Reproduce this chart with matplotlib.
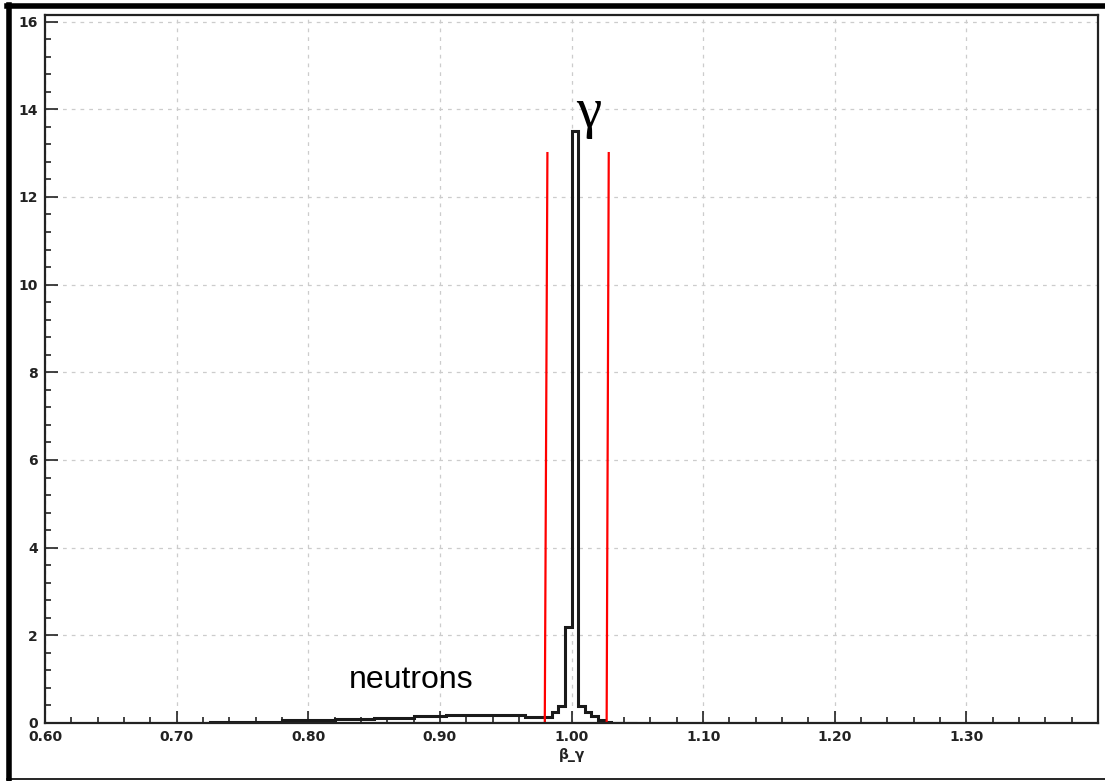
import numpy as np
import matplotlib
matplotlib.use("Agg")
import matplotlib.pyplot as plt
from matplotlib.lines import Line2D
from matplotlib.ticker import MultipleLocator, FixedLocator

# ---------------------------------------------------------------------------
# Data (beta_gamma histogram, bin width 0.005)
# ---------------------------------------------------------------------------
bin_start = 0.725
bin_width = 0.005
counts = [
    # 0.725 - 0.780
    0.03, 0.03, 0.03, 0.03, 0.03, 0.03, 0.03, 0.03, 0.03, 0.03, 0.03,
    # 0.780 - 0.820
    0.06, 0.06, 0.06, 0.06, 0.06, 0.06, 0.06, 0.06,
    # 0.820 - 0.850
    0.09, 0.09, 0.09, 0.09, 0.09, 0.09,
    # 0.850 - 0.880
    0.12, 0.12, 0.12, 0.12, 0.12, 0.12,
    # 0.880 - 0.905
    0.15, 0.15, 0.15, 0.15, 0.15,
    # 0.905 - 0.965
    0.18, 0.18, 0.18, 0.18, 0.18, 0.18, 0.18, 0.18, 0.18, 0.18, 0.18, 0.18,
    # 0.965 - 0.985
    0.14, 0.14, 0.14, 0.14,
    # 0.985 - 1.030 (gamma peak)
    0.24, 0.38, 2.2, 13.5, 0.38, 0.26, 0.15, 0.07, 0.03,
    # 1.030 - 1.050 tail
    0.01, 0.01, 0.01, 0.01,
]

# selection cut lines (x at bottom, x at top), height
cut_low_x = [0.9797, 0.9817]
cut_high_x = [1.0267, 1.0283]
cut_y = [0.0, 13.0]

x_ticks = [0.60, 0.70, 0.80, 0.90, 1.00, 1.10, 1.20, 1.30]
x_ticklabels = ["0.60", "0.70", "0.80", "0.90", "1.00", "1.10", "1.20", "1.30"]
y_ticks = [0, 2, 4, 6, 8, 10, 12, 14, 16]

# ---------------------------------------------------------------------------
fig = plt.figure(figsize=(11.05, 7.81), dpi=100)
ax = fig.add_axes([45 / 1105, 58 / 781, 1053 / 1105, 708 / 781])

edges = bin_start + bin_width * np.arange(len(counts) + 1)
ax.stairs(counts, edges, color="#1a1a1a", linewidth=2.2, baseline=0)

ax.plot(cut_low_x, cut_y, color="red", linewidth=1.6)
ax.plot(cut_high_x, cut_y, color="red", linewidth=1.6)

ax.text(1.0035, 13.6, "γ", fontsize=41, family="Liberation Serif",
        ha="left", va="baseline")
ax.text(0.878, 0.65, "neutrons", fontsize=23, family="Liberation Sans",
        ha="center", va="bottom")

ax.set_xlim(0.6, 1.4)
ax.set_ylim(0, 16.15)
ax.xaxis.set_major_locator(FixedLocator(x_ticks))
ax.set_xticklabels(x_ticklabels)
ax.xaxis.set_minor_locator(MultipleLocator(0.02))
ax.set_yticks(y_ticks)
ax.yaxis.set_minor_locator(MultipleLocator(0.4))

ax.tick_params(which="both", direction="in", top=False, right=False,
               width=1.2, color="#222222")
ax.tick_params(which="major", length=9, pad=5)
ax.tick_params(which="minor", length=4.5)
for lab in ax.get_xticklabels() + ax.get_yticklabels():
    lab.set_fontweight("bold")
    lab.set_fontsize(10)
    lab.set_color("#222222")

ax.set_xlabel("β_γ", fontsize=10, fontweight="bold", labelpad=3, color="#222222")

ax.grid(True, which="major", color="#cccccc", linestyle=(0, (3, 4)), linewidth=0.9)
ax.set_axisbelow(True)
for sp in ax.spines.values():
    sp.set_linewidth(1.6)
    sp.set_color("#222222")

# outer frame of the screenshot
fig.add_artist(Line2D([9 / 1105, 9 / 1105], [0.003, 1 - 5 / 781],
                      transform=fig.transFigure, color="black", linewidth=4))
fig.add_artist(Line2D([7 / 1105, 1.0], [1 - 5.5 / 781, 1 - 5.5 / 781],
                      transform=fig.transFigure, color="black", linewidth=4))
fig.add_artist(Line2D([7 / 1105, 1.0], [2.5 / 781, 2.5 / 781],
                      transform=fig.transFigure, color="black", linewidth=1.2))

fig.savefig("out.png", dpi=100)
